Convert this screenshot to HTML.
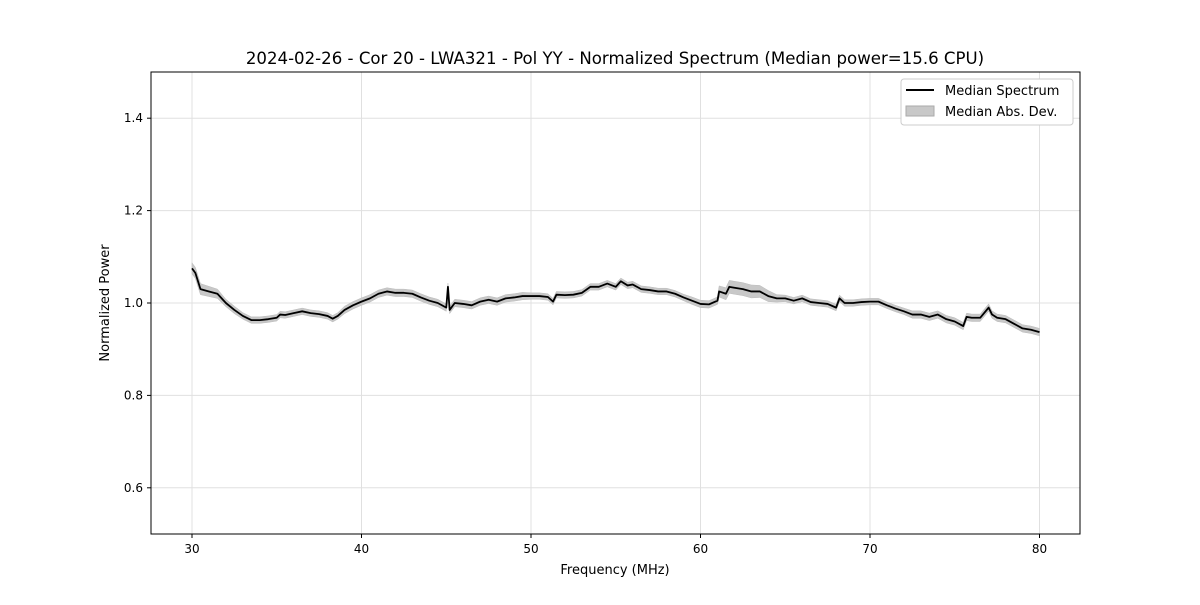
<!DOCTYPE html>
<html><head><meta charset="utf-8"><style>
body{margin:0;background:#fff;font-family:"Liberation Sans","DejaVu Sans",sans-serif}
svg text{font-family:"DejaVu Sans","Liberation Sans",sans-serif}
</style></head><body>
<svg id="chart" width="1200" height="600" xmlns="http://www.w3.org/2000/svg">
<rect width="1200" height="600" fill="#fff"/>
<text x="615" y="64" font-size="16.6" text-anchor="middle">2024-02-26 - Cor 20 - LWA321 - Pol YY - Normalized Spectrum (Median power=15.6 CPU)</text>
<g id="grid"></g>
<g id="band"></g>
<g id="line"></g>
<rect x="151" y="72" width="929" height="462" fill="none" stroke="#000" stroke-width="1"/>
<g id="ticks"></g>
<text x="615" y="574" font-size="13" text-anchor="middle">Frequency (MHz)</text>
<text transform="translate(109,303) rotate(-90)" font-size="13" text-anchor="middle">Normalized Power</text>
<g>
<rect x="901" y="79" width="172" height="46" rx="3" fill="#fff" stroke="#ccc"/>
<line x1="906" y1="90" x2="934" y2="90" stroke="#000" stroke-width="2"/>
<text x="945" y="95" font-size="13">Median Spectrum</text>
<rect x="906" y="106" width="28" height="10" fill="#c8c8c8" stroke="#aaa"/>
<text x="945" y="116" font-size="13">Median Abs. Dev.</text>
</g>
</svg>
<script>
const freqs=[30,30.2,30.5,31,31.5,32,32.5,33,33.5,34,34.5,35,35.2,35.5,36,36.5,37,37.5,38,38.3,38.6,39,39.5,40,40.5,41,41.5,42,42.5,43,43.5,44,44.5,45,45.1,45.2,45.5,46,46.5,47,47.5,48,48.5,49,49.5,50,50.5,51,51.3,51.5,52,52.5,53,53.5,54,54.5,55,55.3,55.7,56,56.5,57,57.5,58,58.5,59,59.5,60,60.5,61,61.1,61.5,61.7,62,62.5,63,63.5,64,64.5,65,65.5,66,66.5,67,67.5,68,68.2,68.5,69,69.5,70,70.5,71,71.5,72,72.5,73,73.5,74,74.5,75,75.5,75.7,76,76.5,77,77.2,77.5,78,78.5,79,79.5,80];
const power=[1.075,1.065,1.03,1.025,1.02,1.0,0.985,0.972,0.963,0.963,0.965,0.968,0.975,0.974,0.978,0.982,0.978,0.976,0.972,0.966,0.972,0.985,0.995,1.003,1.01,1.02,1.025,1.022,1.022,1.02,1.012,1.005,1.0,0.99,1.035,0.985,1.0,0.998,0.995,1.003,1.007,1.003,1.01,1.012,1.015,1.015,1.015,1.013,1.003,1.018,1.017,1.018,1.022,1.035,1.035,1.042,1.035,1.047,1.038,1.04,1.03,1.028,1.025,1.025,1.02,1.012,1.005,0.998,0.997,1.005,1.025,1.02,1.035,1.033,1.03,1.025,1.025,1.015,1.01,1.01,1.005,1.01,1.002,1.0,0.998,0.99,1.01,1.0,1.0,1.002,1.003,1.003,0.995,0.988,0.982,0.975,0.975,0.97,0.975,0.965,0.96,0.95,0.97,0.968,0.968,0.99,0.975,0.968,0.965,0.955,0.945,0.942,0.937];
const mad=[0.012,0.012,0.012,0.011,0.01,0.008,0.008,0.007,0.007,0.007,0.007,0.007,0.007,0.007,0.007,0.007,0.007,0.007,0.007,0.007,0.007,0.008,0.008,0.008,0.008,0.008,0.008,0.008,0.008,0.008,0.008,0.008,0.008,0.008,0.008,0.008,0.008,0.008,0.008,0.008,0.008,0.008,0.008,0.008,0.008,0.007,0.007,0.007,0.007,0.007,0.007,0.007,0.007,0.007,0.007,0.007,0.007,0.007,0.007,0.007,0.007,0.007,0.007,0.007,0.007,0.007,0.008,0.008,0.008,0.008,0.012,0.013,0.014,0.014,0.014,0.014,0.013,0.012,0.008,0.007,0.007,0.007,0.007,0.007,0.007,0.007,0.007,0.007,0.007,0.007,0.007,0.007,0.007,0.007,0.007,0.008,0.008,0.008,0.008,0.008,0.008,0.008,0.008,0.008,0.008,0.008,0.008,0.008,0.008,0.008,0.008,0.008,0.008];
const xTicks=[30,40,50,60,70,80];
const yTicks=[0.6,0.8,1.0,1.2,1.4];
const NS="http://www.w3.org/2000/svg";
const X=f=>192+(f-30)*16.95;
const Y=v=>534-(v-0.5)*462;
function mk(tag,attrs,parent){const e=document.createElementNS(NS,tag);for(const k in attrs)e.setAttribute(k,attrs[k]);document.getElementById(parent).appendChild(e);return e;}
xTicks.forEach(t=>{
  const g=mk('line',{x1:X(t),x2:X(t),y1:72,y2:534,stroke:'#e0e0e0','stroke-width':1},'grid');
  
  
  const tk=mk('line',{x1:X(t),x2:X(t),y1:534,y2:538,stroke:'#000'},'ticks');
  
  
  const tx=mk('text',{x:X(t),y:553,'font-size':12,'text-anchor':'middle'},'ticks');
  tx.textContent=t;
  
  
});
yTicks.forEach(t=>{
  const g=mk('line',{x1:151,x2:1080,y1:Y(t),y2:Y(t),stroke:'#e0e0e0','stroke-width':1},'grid');
  
  
  const tk=mk('line',{x1:147,x2:151,y1:Y(t),y2:Y(t),stroke:'#000'},'ticks');
  
  
  const tx=mk('text',{x:143,y:Y(t)+4,'font-size':12,'text-anchor':'end'},'ticks');
  tx.textContent=t.toFixed(1);
  
  
});
let up=freqs.map((f,i)=>X(f)+','+Y(power[i]+mad[i]));
let dn=freqs.map((f,i)=>X(f)+','+Y(power[i]-mad[i])).reverse();
const band=mk('polygon',{points:up.concat(dn).join(' '),fill:'#c8c8c8',stroke:'#bbb','stroke-width':0.5},'band');


const line=mk('polyline',{points:freqs.map((f,i)=>X(f)+','+Y(power[i])).join(' '),fill:'none',stroke:'#000','stroke-width':1.8,'stroke-linejoin':'round'},'line');


</script>
</body></html>
